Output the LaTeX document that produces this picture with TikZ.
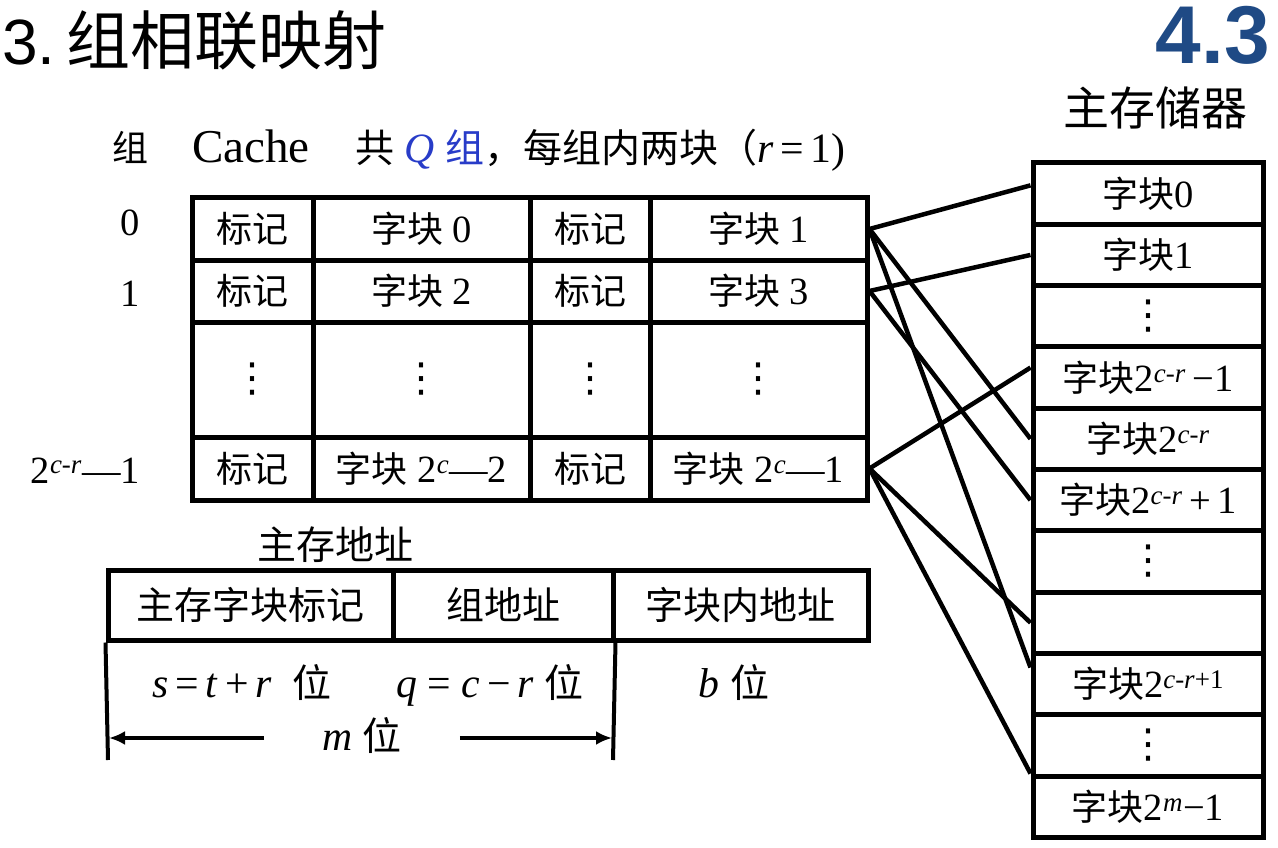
\documentclass[tikz,border=0pt]{standalone}
\usepackage{fontspec}
\setmainfont{Liberation Serif}[Scale=1.07]
\newfontfamily\zhfont{Noto Sans CJK SC}
\newfontfamily\arialfont{Liberation Sans}
\newfontfamily\dejavu{DejaVu Sans}
\newcommand{\zh}[1]{{\zhfont #1}}
\newcommand{\vdts}{{\dejavu\fontsize{40}{40}\selectfont ⋮}}
\usetikzlibrary{arrows.meta,calc}
\definecolor{titleblue}{RGB}{31,74,133}
\definecolor{qblue}{RGB}{40,60,200}
\begin{document}
\begin{tikzpicture}[x=1pt,y=-1pt,
  cellbox/.style={draw, line width=5pt, inner sep=0pt, font=\fontsize{36}{40}\selectfont},
  addrbox/.style={draw, line width=5pt, inner sep=0pt, font=\fontsize{38}{42}\selectfont},
  link/.style={line width=4.5pt},
  lbl/.style={inner sep=0pt, font=\fontsize{36}{40}\selectfont},
  albl/.style={inner sep=0pt, font=\fontsize{39}{42}\selectfont},
  memcell/.style={cellbox, minimum width=230pt, minimum height=61.3pt}
]
\useasboundingbox (0,0) rectangle (1278,848);

% titles
\node[inner sep=0pt, anchor=base west, font=\fontsize{64}{66}\selectfont] (title) at (2,65) {{\arialfont 3.}\,\zh{组相联映射}};
\node[inner sep=0pt, anchor=base east, font=\fontsize{82}{86}\selectfont\bfseries, text=titleblue] (sec) at (1270,64) {\arialfont 4.3};
\node[inner sep=0pt, font=\fontsize{46}{50}\selectfont] (mmtitle) at (1155,108) {\zh{主存储器}};

% header line
\node[lbl, anchor=base] (zu) at (130,162) {\zh{组}};
\node[inner sep=0pt, anchor=base west, font=\fontsize{44}{48}\selectfont] (cache) at (192,163) {Cache};
\node[inner sep=0pt, anchor=base west, font=\fontsize{39}{42}\selectfont] (desc) at (355,163) {\zh{共}\ \textcolor{qblue}{\textit{Q}\ \zh{组}}\zh{，每组内两块（}\textit{r}\,=\,1)};

% row labels
\node[lbl, anchor=base] (r0) at (130,236) {0};
\node[lbl, anchor=base] (r1) at (130,306) {1};
\node[lbl, anchor=base east] (rn) at (140,483) {2\textsuperscript{\textit{c-r}}—1};

% cache table
\foreach \r/\y/\h in {0/229/62, 1/291/62, 3/468.5/63}{
  \node[cellbox, minimum width=121pt, minimum height=\h pt] (c\r0) at (252.5,\y) {\zh{标记}};
  \node[cellbox, minimum width=120pt, minimum height=\h pt] (c\r2) at (590,\y) {\zh{标记}};
}
\node[cellbox, minimum width=217pt, minimum height=62pt] (c01) at (421.5,229) {\zh{字块} 0};
\node[cellbox, minimum width=217pt, minimum height=62pt] (c03) at (758.5,229) {\zh{字块} 1};
\node[cellbox, minimum width=217pt, minimum height=62pt] (c11) at (421.5,291) {\zh{字块} 2};
\node[cellbox, minimum width=217pt, minimum height=62pt] (c13) at (758.5,291) {\zh{字块} 3};
\node[cellbox, minimum width=217pt, minimum height=63pt] (c31) at (421.5,468.5) {\zh{字块} 2\textsuperscript{\textit{c}}—2};
\node[cellbox, minimum width=217pt, minimum height=63pt] (c33) at (758.5,468.5) {\zh{字块} 2\textsuperscript{\textit{c}}—1};
\node[cellbox, minimum width=121pt, minimum height=115pt] (c20) at (252.5,379.5) {\vdts};
\node[cellbox, minimum width=217pt, minimum height=115pt] (c21) at (421.5,379.5) {\vdts};
\node[cellbox, minimum width=120pt, minimum height=115pt] (c22) at (590,379.5) {\vdts};
\node[cellbox, minimum width=217pt, minimum height=115pt] (c23) at (758.5,379.5) {\vdts};

% main memory
\node[memcell] (m0) at (1148,193.65) {\zh{字块}0};
\node[memcell] (m1) at (1148,254.95) {\zh{字块}1};
\node[memcell] (m2) at (1148,316.25) {\vdts};
\node[memcell] (m3) at (1148,377.55) {\zh{字块}2\textsuperscript{\textit{c-r}}\,−1};
\node[memcell] (m4) at (1148,438.85) {\zh{字块}2\textsuperscript{\textit{c-r}}};
\node[memcell] (m5) at (1148,500.15) {\zh{字块}2\textsuperscript{\textit{c-r}}\,+\,1};
\node[memcell] (m6) at (1148,561.45) {\vdts};
\node[memcell] (m7) at (1148,622.75) {};
\node[memcell] (m8) at (1148,684.05) {\zh{字块}2\textsuperscript{\textit{c-r}+1}};
\node[memcell] (m9) at (1148,745.35) {\vdts};
\node[memcell] (m10) at (1148,806.65) {\zh{字块}2\textsuperscript{\textit{m}}−1};

% links
\draw[link] (c03.east) -- ($(m0.west)!0.25!(m0.north west)$);
\draw[link] (c03.east) -- (m4.west);
\draw[link] (c03.east) -- ($(m8.west)!0.5!(m8.north west)$);
\draw[link] (c13.east) -- (m1.west);
\draw[link] (c13.east) -- (m5.west);
\draw[link] (c33.east) -- ($(m3.west)!0.3!(m3.north west)$);
\draw[link] (c33.east) -- (m7.west);
\draw[link] (c33.east) -- (m10.north west);

% address
\node[albl] (addrtitle) at (335,545) {\zh{主存地址}};
\node[addrbox, minimum width=285pt, minimum height=70pt] (a1) at (250.5,605) {\zh{主存字块标记}};
\node[addrbox, minimum width=220pt, minimum height=70pt] (a2) at (503,605) {\zh{组地址}};
\node[addrbox, minimum width=255pt, minimum height=70pt] (a3) at (740.5,605) {\zh{字块内地址}};
\coordinate (bl) at (108,760);
\coordinate (br) at (613,760);
\draw[line width=4pt] (a1.south west) -- (bl);
\draw[line width=4pt] (a2.south east) -- (br);
\node[albl, anchor=base] (sbits) at (242,697) {\textit{s}\,=\,\textit{t}\,+\,\textit{r}\ \ \zh{位}};
\node[albl, anchor=base] (qbits) at (490,697) {\textit{q}\ =\ \textit{c}\,−\,\textit{r}\ \zh{位}};
\node[albl, anchor=base] (bbits) at (734,697) {\textit{b}\ \zh{位}};
\node[albl, anchor=base] (mbits) at (362,750) {\textit{m}\ \zh{位}};
\coordinate (arrl) at (109,738);
\coordinate (arrr) at (612,738);
\draw[line width=3.5pt, -{Latex[length=16pt,width=14pt]}] ($(mbits.west |- arrl)+(-58,0)$) -- (arrl);
\draw[line width=3.5pt, -{Latex[length=16pt,width=14pt]}] ($(mbits.east |- arrr)+(58,0)$) -- (arrr);
\end{tikzpicture}
\end{document}
